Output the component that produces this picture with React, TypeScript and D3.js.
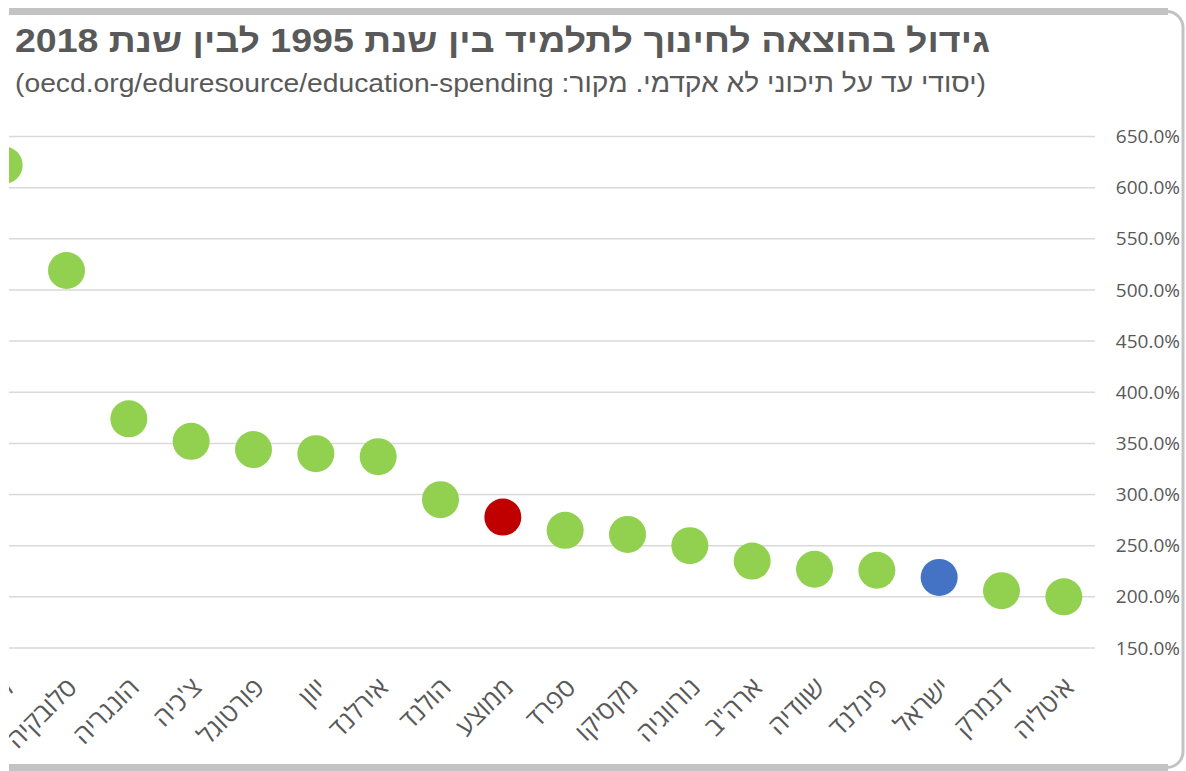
import React, { useEffect, useRef } from "react"
import * as d3 from "d3"

// values (growth in spending per student, %)
const countries = ["ליטא", "סלובקיה", "הונגריה", "צ'כיה", "פורטוגל", "יוון", "אירלנד", "הולנד", "ממוצע", "ספרד", "מקסיקו", "נורווגיה", "ארה\"ב", "שוודיה", "פינלנד", "ישראל", "דנמרק", "איטליה"]
const growth = [622, 519, 374, 352, 344, 340, 337, 295, 278, 265, 261, 250, 235, 227, 226, 219, 206, 200]
const yTicks = [150, 200, 250, 300, 350, 400, 450, 500, 550, 600, 650]
const averageName = "ממוצע"
const israelName = "ישראל"

const title = "גידול בהוצאה לחינוך לתלמיד בין שנת 1995 לבין שנת 2018"
const subtitle = "(יסודי עד על תיכוני לא אקדמי. מקור: oecd.org/eduresource/education-spending)"

const W = 1186
const H = 771

export default function App() {
    const ref = useRef<SVGSVGElement>(null)

    useEffect(() => {
        document.body.style.margin = "0"
        const svg = d3.select(ref.current)
        svg.selectAll("*").remove()

        const font = "'Open Sans', 'Liberation Sans', 'DejaVu Sans', sans-serif"
        const grey = "#595959"

        // plot area: left part falls outside the visible picture
        const x = d3.scaleBand<string>().domain(countries).range([-27, 1095]).padding(0)
        const y = d3.scaleLinear().domain([150, 650]).range([648, 136.5])

        svg.append("defs").append("clipPath").attr("id", "vis")
            .append("rect").attr("x", 9).attr("y", 0).attr("width", W - 9).attr("height", H)

        const g = svg.append("g").attr("clip-path", "url(#vis)")

        // titles
        g.append("text")
            .attr("x", 990).attr("y", 52)
            .attr("direction", "rtl").attr("text-anchor", "start")
            .attr("font-family", "'Liberation Sans', Arial, sans-serif")
            .attr("font-weight", "bold").attr("font-size", 33).attr("fill", grey)
            .attr("textLength", 975).attr("lengthAdjust", "spacingAndGlyphs")
            .text(title)
        g.append("text")
            .attr("x", 986).attr("y", 92)
            .attr("direction", "rtl").attr("text-anchor", "start")
            .attr("font-family", "'Liberation Sans', Arial, sans-serif")
            .attr("font-size", 26).attr("fill", grey)
            .attr("textLength", 971).attr("lengthAdjust", "spacingAndGlyphs")
            .text(subtitle)

        // grid
        g.selectAll("line.grid").data(yTicks).enter().append("line")
            .attr("class", "grid")
            .attr("x1", -27).attr("x2", 1095)
            .attr("y1", d => y(d)).attr("y2", d => y(d))
            .attr("stroke", "#d9d9d9").attr("stroke-width", 1.5)

        // y axis on the right
        const yAxis = d3.axisRight(y).tickValues(yTicks).tickSize(0)
            .tickFormat(d => (d as number).toFixed(1) + "%")
        const ya = g.append("g").attr("transform", "translate(1180,0)").call(yAxis)
        ya.select(".domain").remove()
        ya.selectAll("text")
            .attr("x", 0).attr("text-anchor", "end")
            .attr("font-family", font).attr("font-size", 19).attr("fill", grey)

        // x labels, rotated
        g.selectAll("text.cat").data(countries).enter().append("text")
            .attr("class", "cat")
            .attr("transform", d => `translate(${x(d)! + x.bandwidth() / 2 + 12},689) rotate(-45)`)
            .attr("text-anchor", "end")
            .attr("font-family", font).attr("font-size", 26).attr("fill", grey)
            .text(d => d)

        // dots
        g.selectAll("circle.dot").data(countries).enter().append("circle")
            .attr("class", "dot")
            .attr("cx", d => x(d)! + x.bandwidth() / 2)
            .attr("cy", (d, i) => y(growth[i]))
            .attr("r", 18.5)
            .attr("fill", d => d === averageName ? "#c00000" : d === israelName ? "#4472c4" : "#92d050")

        // frame
        g.append("rect")
            .attr("x", -20).attr("y", 11.5).attr("width", 1203).attr("height", 756)
            .attr("rx", 16).attr("fill", "none").attr("stroke", "#c3c3c3").attr("stroke-width", 3)
        g.selectAll("line.frame").data([11.5, 767.5]).enter().append("line")
            .attr("class", "frame")
            .attr("x1", -20).attr("x2", 1168).attr("y1", d => d).attr("y2", d => d)
            .attr("stroke", "#c3c3c3").attr("stroke-width", 7)
    }, [])

    return <svg ref={ref} width={W} height={H} style={{ display: "block" }}></svg>
}
